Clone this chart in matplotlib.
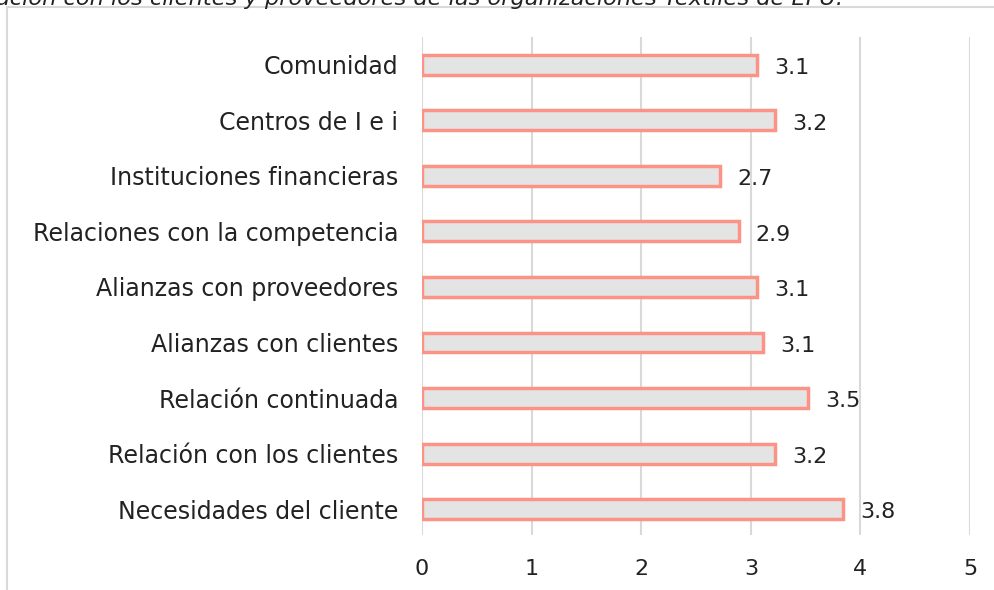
import matplotlib.pyplot as plt
from matplotlib.lines import Line2D

categorias = ['Necesidades del cliente', 'Relación con los clientes', 'Relación continuada',
              'Alianzas con clientes', 'Alianzas con proveedores', 'Relaciones con la competencia',
              'Instituciones financieras', 'Centros de I e i', 'Comunidad']
valores = [3.84, 3.22, 3.52, 3.11, 3.06, 2.89, 2.72, 3.22, 3.06]
ticks_x = [0, 1, 2, 3, 4, 5]

plt.rcParams['font.family'] = ['DejaVu Sans']

fig = plt.figure(figsize=(9.95, 5.9), dpi=100)
ax = fig.add_axes([0.424, 0.093, 0.551, 0.844])

y = range(len(categorias))
ax.barh(y, valores, height=0.36, color='#e4e4e4', edgecolor='#fb9486', linewidth=2.5, zorder=3)
for i, v in enumerate(valores):
    ax.text(v + 0.155, i - 0.06, f"{v:.1f}", va='center', ha='left', fontsize=16, color='#222222')

ax.set_xlim(0, 5)
ax.set_ylim(-0.47, 8.5)
ax.set_xticks(ticks_x)
ax.set_yticks(list(y))
ax.set_yticklabels(categorias)
ax.tick_params(axis='y', length=0, pad=17, labelsize=17, labelcolor='#222222')
ax.tick_params(axis='x', length=0, pad=17, labelsize=16, labelcolor='#222222')
ax.grid(axis='x', color='#d9d9d9', linewidth=1.5, zorder=0)
for gl in ax.get_xgridlines():
    gl.set_snap(True)
for s in ax.spines.values():
    s.set_visible(False)

# marco del grafico (recortado en la imagen original)
fig.add_artist(Line2D([7 / 995, 1.0], [1 - 7 / 590, 1 - 7 / 590], color='#d9d9d9', lw=1.5))
fig.add_artist(Line2D([7 / 995, 7 / 995], [0, 1 - 7 / 590], color='#d9d9d9', lw=1.5))

# titulo cortado arriba
fig.text(-0.004, 1.003, 'ación con los clientes y proveedores de las organizaciones Textiles de EPU.',
         ha='left', va='center', fontsize=16.2, style='italic', color='#222222')

fig.savefig('out.png', dpi=100)
